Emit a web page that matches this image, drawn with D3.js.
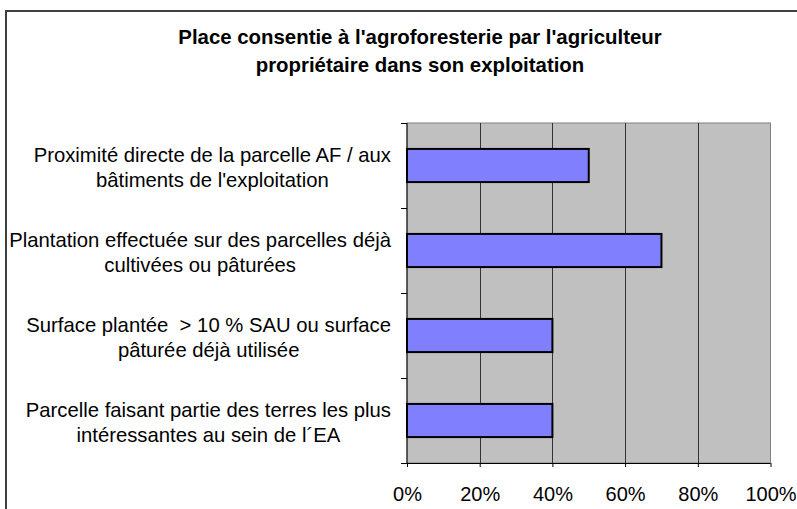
<!DOCTYPE html>
<html>
<head>
<meta charset="utf-8">
<script src="https://cdn.jsdelivr.net/npm/d3@7"></script>
<style>
  body { margin: 0; background: white; }
  text { font-family: "Liberation Sans", Arial, sans-serif; white-space: pre; }
</style>
</head>
<body>
<svg id="chart" width="797" height="509"></svg>
<script>
// chart data
var categories = [
    ["Proximité directe de la parcelle AF / aux", "bâtiments de l'exploitation"],
    ["Plantation effectuée sur des parcelles déjà", "cultivées ou pâturées"],
    ["Surface plantée  > 10 % SAU ou surface", "pâturée déjà utilisée"],
    ["Parcelle faisant partie des terres les plus", "intéressantes au sein de l´EA"]
];
var values = [0.50, 0.70, 0.40, 0.40];
var xTicks = [0, 0.2, 0.4, 0.6, 0.8, 1.0];
var titleLines = ["Place consentie à l'agroforesterie par l'agriculteur",
                  "propriétaire dans son exploitation"];

var svg = d3.select("#chart");

// outer frame
svg.append("rect")
    .attr("x", 6).attr("y", 11)
    .attr("width", 800).attr("height", 520)
    .style("fill", "white")
    .style("stroke", "#404040")
    .style("stroke-width", 2);

var plotLeft = 407, plotRight = 770.5, plotTop = 123, plotBottom = 463;

var x = d3.scaleLinear().domain([0, 1]).range([plotLeft, plotRight]);
var y = d3.scaleBand()
    .domain(d3.range(categories.length))
    .range([plotTop, plotBottom])
    .paddingInner(0.61)
    .paddingOuter(0.305);
var yEdges = d3.scaleBand().domain(d3.range(categories.length)).range([plotTop, plotBottom]);

// plot background
svg.append("rect")
    .attr("x", plotLeft).attr("y", plotTop)
    .attr("width", plotRight - plotLeft).attr("height", plotBottom - plotTop)
    .style("fill", "#c0c0c0")
    .style("stroke", "#808080")
    .style("stroke-width", 1);

// gridlines
svg.selectAll(".grid")
    .data(xTicks.slice(1, -1))
    .enter()
    .append("line")
    .attr("class", "grid")
    .attr("x1", function (d) { return Math.round(x(d)) + 0.5 })
    .attr("x2", function (d) { return Math.round(x(d)) + 0.5 })
    .attr("y1", plotTop).attr("y2", plotBottom)
    .style("stroke", "#333")
    .style("stroke-width", 1);

// bars
svg.selectAll(".bar")
    .data(values)
    .enter()
    .append("rect")
    .attr("class", "bar")
    .attr("x", x(0))
    .attr("y", function (d, i) { return y(i) })
    .attr("width", function (d) { return x(d) - x(0) })
    .attr("height", y.bandwidth())
    .style("fill", "#8080ff")
    .style("stroke", "black")
    .style("stroke-width", 2);

// left axis line + ticks at band edges
svg.append("line")
    .attr("x1", plotLeft).attr("x2", plotLeft)
    .attr("y1", plotTop).attr("y2", plotBottom)
    .style("stroke", "black");
var edges = d3.range(categories.length + 1).map(function (i) {
    return i < categories.length ? yEdges(i) : plotBottom;
});
svg.selectAll(".ytick")
    .data(edges)
    .enter()
    .append("line")
    .attr("class", "ytick")
    .attr("x1", plotLeft - 6).attr("x2", plotLeft)
    .attr("y1", function (d) { return Math.round(d) + 0.5 })
    .attr("y2", function (d) { return Math.round(d) + 0.5 })
    .style("stroke", "black");

// bottom axis
var xAxis = d3.axisBottom(x)
    .tickValues(xTicks)
    .tickFormat(d3.format(".0%"))
    .tickSize(4)
    .tickPadding(20);
var gx = svg.append("g")
    .attr("transform", "translate(0," + plotBottom + ")")
    .call(xAxis);
gx.select(".domain").attr("d", "M" + plotLeft + ",0.5H" + plotRight).style("stroke", "black");
gx.selectAll(".tick line").style("stroke", "black");
gx.selectAll(".tick text")
    .style("font-size", "20px")
    .style("fill", "black")
    .style("font-family", '"Liberation Sans", Arial, sans-serif');

// category labels: lines centred on each other, block right-aligned
var labelRight = 391;
categories.forEach(function (lines, i) {
    var cy = yEdges(i) + yEdges.bandwidth() / 2;
    var g = svg.append("g");
    var texts = g.selectAll("text")
        .data(lines)
        .enter()
        .append("text")
        .attr("text-anchor", "middle")
        .attr("y", function (d, j) { return cy - 4 + 25 * j })
        .style("font-size", "20.3px")
        .text(function (d) { return d });
    var w = 0;
    texts.each(function () { w = Math.max(w, this.getComputedTextLength()) });
    texts.attr("x", labelRight - w / 2);
});

// title
svg.selectAll(".title")
    .data(titleLines)
    .enter()
    .append("text")
    .attr("class", "title")
    .attr("x", 420)
    .attr("y", function (d, i) { return 44 + 28 * i })
    .attr("text-anchor", "middle")
    .style("font-size", "20.4px")
    .style("font-weight", "bold")
    .text(function (d) { return d });
</script>
</body>
</html>
